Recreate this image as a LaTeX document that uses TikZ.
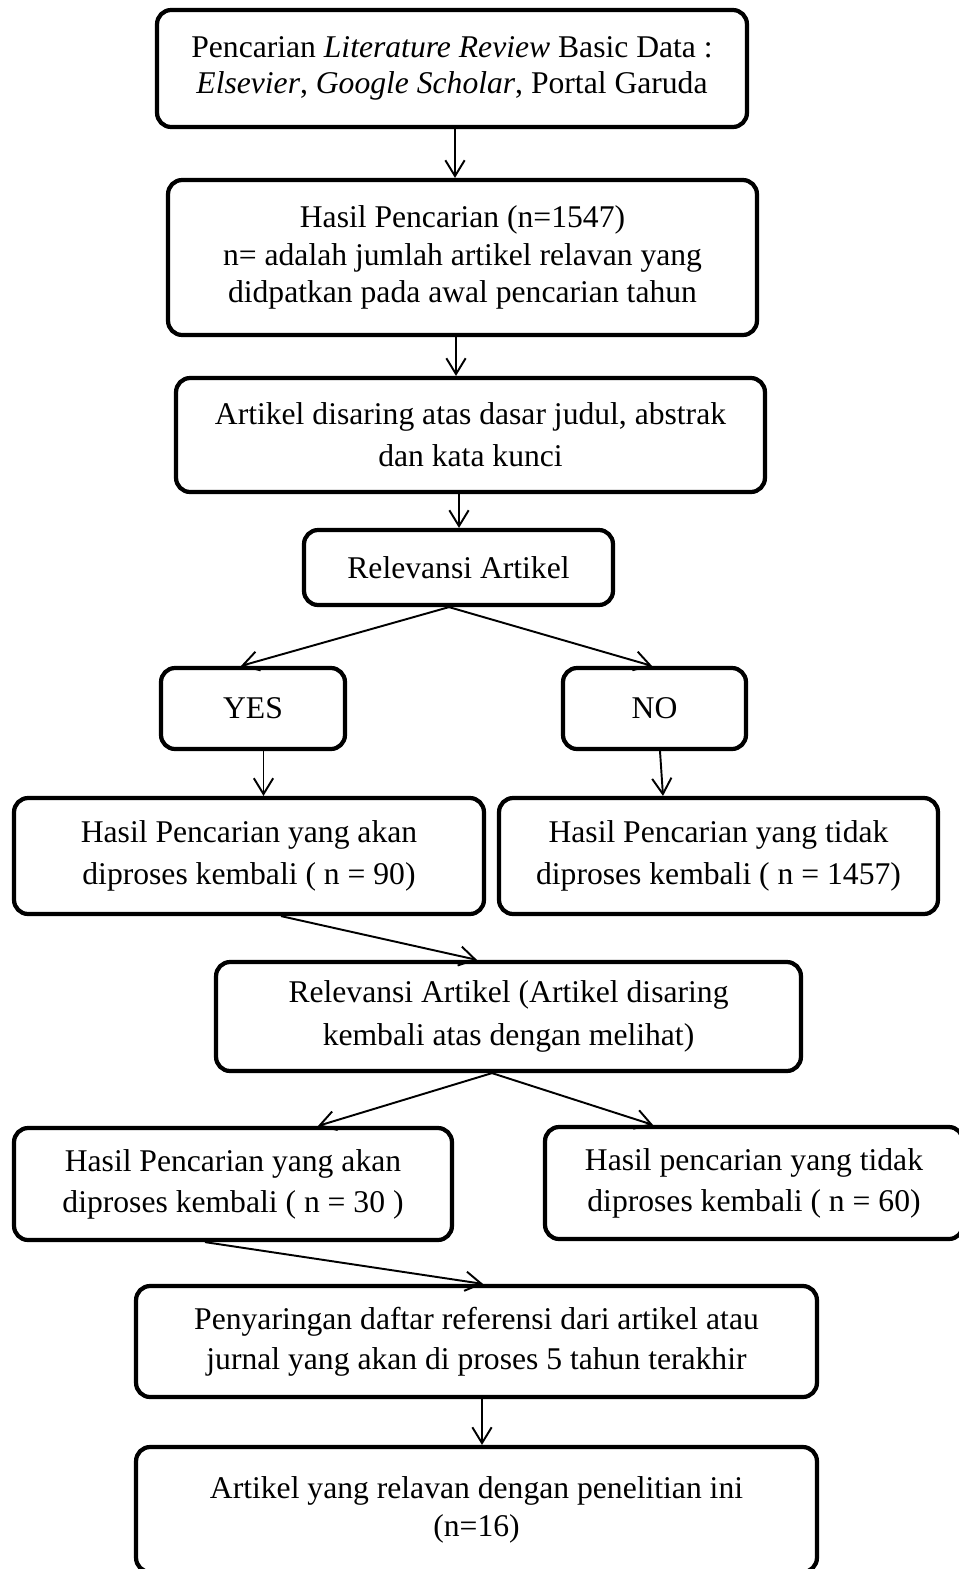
\documentclass[tikz,border=0pt]{standalone}
\usepackage{fontspec}
\setmainfont{Liberation Serif}
\usetikzlibrary{arrows.meta, positioning, calc}

\begin{document}
\begin{tikzpicture}[x=0.02cm, y=-0.02cm]
    \tikzstyle{block} = [rectangle, draw, line width=2.4pt, rounded corners=8pt, align=center, inner sep=0pt, font=\fontsize{18}{24}\selectfont]
    \tikzstyle{arrow} = [line width=1.1pt, -{Straight Barb[length=9pt, width=11pt]}]

    \useasboundingbox (0,0) rectangle (959,1569);
    \clip (0,0) rectangle (959,1569);

    \node[block, minimum width=11.8cm, minimum height=2.34cm, font=\fontsize{18}{20.5}\selectfont] (search) at (452,68.5) {Pencarian \textit{Literature Review} Basic Data :\\\textit{Elsevier}, \textit{Google Scholar}, Portal Garuda};
    \node[block, minimum width=11.78cm, minimum height=3.1cm, font=\fontsize{18}{21.3}\selectfont] (hasil) at (462.5,257.5) {Hasil Pencarian (n=1547)\\n= adalah jumlah artikel relavan yang\\didpatkan pada awal pencarian tahun};
    \node[block, minimum width=11.78cm, minimum height=2.28cm] (saring) at (470.5,435) {Artikel disaring atas dasar judul, abstrak\\dan kata kunci};
    \node[block, minimum width=6.18cm, minimum height=1.5cm] (relev) at (458.5,567.5) {Relevansi Artikel};
    \node[block, minimum width=3.68cm, minimum height=1.62cm] (yes) at (253,708.5) {YES};
    \node[block, minimum width=3.66cm, minimum height=1.62cm] (no) at (654.5,708.5) {NO};
    \node[block, minimum width=9.4cm, minimum height=2.32cm] (prosesA) at (249,856) {Hasil Pencarian yang akan\\diproses kembali ( n = 90)};
    \node[block, minimum width=8.78cm, minimum height=2.32cm] (tidakA) at (718.5,856) {Hasil Pencarian yang tidak\\diproses kembali ( n = 1457)};
    \node[block, minimum width=11.7cm, minimum height=2.18cm] (relevB) at (508.5,1016.5) {Relevansi Artikel (Artikel disaring\\kembali atas dengan melihat)};
    \node[block, minimum width=8.76cm, minimum height=2.24cm, font=\fontsize{18}{23.2}\selectfont] (prosesB) at (233,1184) {Hasil Pencarian yang akan\\diproses kembali ( n = 30 )};
    \node[block, minimum width=8.36cm, minimum height=2.24cm, font=\fontsize{18}{23.2}\selectfont] (tidakB) at (754,1183) {Hasil pencarian yang tidak\\diproses kembali ( n = 60)};
    \node[block, minimum width=13.62cm, minimum height=2.22cm, font=\fontsize{18}{22.7}\selectfont] (daftar) at (476.5,1341.5) {Penyaringan daftar referensi dari artikel atau\\jurnal yang akan di proses 5 tahun terakhir};
    \node[block, minimum width=13.62cm, minimum height=2.5cm, font=\fontsize{18}{21.5}\selectfont] (akhir) at (476.5,1509.5) {Artikel yang relavan dengan penelitian ini\\(n=16)};

    \draw[arrow] ($(search.south)+(3,0)$) -- ($(hasil.north)+(-7.5,0)$);
    \draw[arrow] ($(hasil.south)+(-6.5,0)$) -- ($(saring.north)+(-14.5,0)$);
    \draw[arrow] ($(saring.south)+(-11.5,0)$) -- ($(relev.north)+(0.5,0)$);
    \draw[arrow] ($(relev.south)+(-9.5,0)$) -- ($(yes.north)+(-12,0)$);
    \draw[arrow] ($(relev.south)+(-9.5,0)$) -- ($(no.north)+(-2.5,0)$);
    \draw[arrow] ($(yes.south)+(10.5,0)$) -- ($(prosesA.north)+(14.5,0)$);
    \draw[arrow] ($(no.south)+(5.5,0)$) -- ($(tidakA.north)+(-55.5,0)$);
    \draw[arrow] ($(prosesA.south)+(32,0)$) -- ($(relevB.north)+(-31.5,0)$);
    \draw[arrow] ($(relevB.south)+(-16.5,0)$) -- ($(prosesB.north)+(85,0)$);
    \draw[arrow] ($(relevB.south)+(-16.5,0)$) -- ($(tidakB.north)+(-101,0)$);
    \draw[arrow] ($(prosesB.south)+(-28,0)$) -- ($(daftar.north)+(6.5,0)$);
    \draw[arrow] ($(daftar.south)+(5.5,0)$) -- ($(akhir.north)+(5.5,0)$);
\end{tikzpicture}
\end{document}
